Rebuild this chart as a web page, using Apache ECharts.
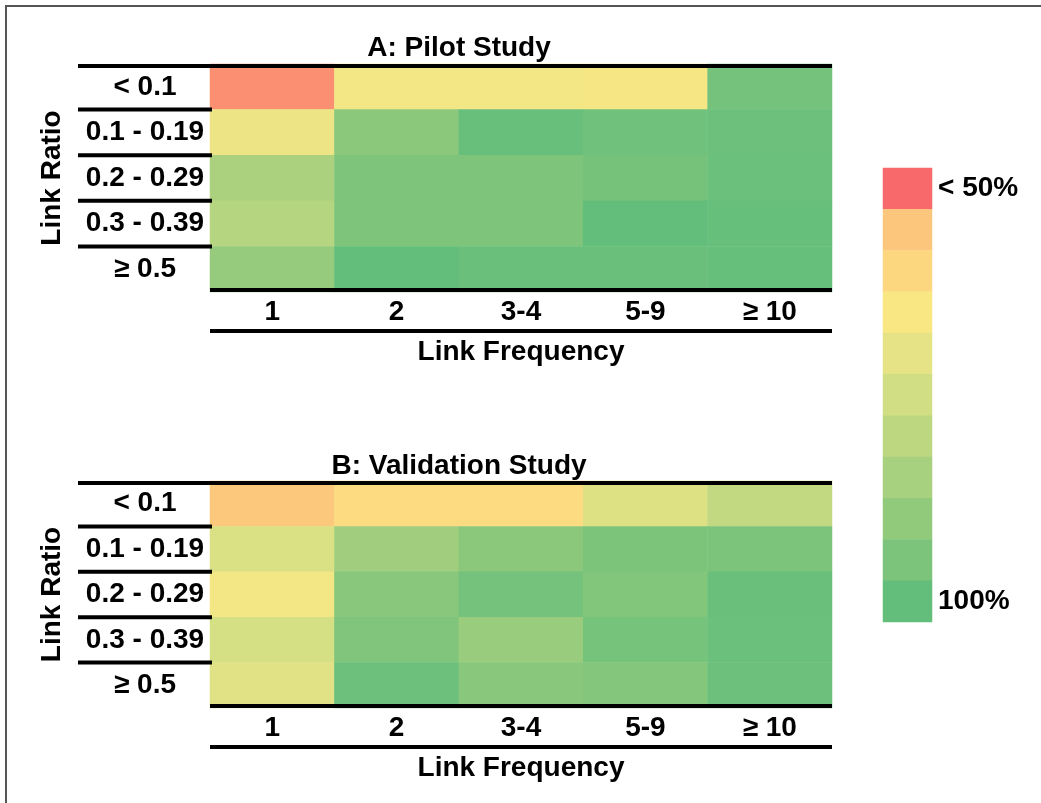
<!DOCTYPE html>
<html>
<head>
<meta charset="utf-8">
<script src="https://cdn.jsdelivr.net/npm/echarts@6/dist/echarts.min.js"></script>
<style>
html,body{margin:0;padding:0;background:#fff;}
#main{width:1041px;height:803px;}
</style>
</head>
<body>
<div id="main"></div>
<script>
// ---- data ----
const xLabels = ['1', '2', '3-4', '5-9', '≥ 10'];
const yLabels = ['< 0.1', '0.1 - 0.19', '0.2 - 0.29', '0.3 - 0.39', '≥ 0.5'];
// rows follow yLabels, columns follow xLabels (percent scale, <50 shown as red)
const pilotValues = [
  [52, 66.5, 66.5, 65.5, 96.6],
  [68, 91.6, 99, 97.6, 98.2],
  [84, 94.5, 94.5, 96.3, 98.4],
  [81.6, 94.5, 94.5, 100, 99.4],
  [89, 99.8, 98.6, 98.6, 99.4]
];
const validationValues = [
  [55.6, 61.2, 61.2, 72, 78.7],
  [72.7, 86.7, 91.6, 94.8, 95],
  [66.5, 92, 96.6, 93.6, 98.6],
  [74, 94, 88, 96.2, 98.4],
  [71.2, 98, 92, 93.2, 98.2]
];
const legendValues = [50, 55, 60, 65, 70, 75, 80, 85, 90, 95, 100];
const legendLabels = ['< 50%', '', '', '', '', '', '', '', '', '', '100%'];
const legendColors = ['#F8696B', '#FCC77C', '#FDD780', '#F9E784', '#E5E385', '#D1DE83',
                      '#BDD781', '#A7D07F', '#92CA7C', '#7CC47B', '#63BE7B'];

// ---- layout ----
const FONT = 'Liberation Sans, Arial, sans-serif';
const txt = {fontFamily: FONT, fontWeight: 'bold', fontSize: 28, color: '#000'};
const G = [
  {left: 210, top: 64, width: 622, height: 228},
  {left: 210, top: 481, width: 622, height: 227}
];
const LEG = {left: 883, top: 168, width: 49, height: 454};

function toCells(m) {
  const out = [];
  m.forEach((row, yi) => row.forEach((v, xi) => out.push([xi, yi, v])));
  return out;
}

const chart = echarts.init(document.getElementById('main'));

const graphics = [];
function hline(x1, x2, y, w) {
  graphics.push({type: 'line', shape: {x1: x1, y1: y, x2: x2, y2: y},
    style: {stroke: '#000', lineWidth: w}, silent: true, z: 100});
}
// frame
graphics.push({type: 'line', shape: {x1: 5, y1: 6, x2: 1041, y2: 6}, style: {stroke: '#555', lineWidth: 2}, silent: true});
graphics.push({type: 'line', shape: {x1: 6, y1: 5, x2: 6, y2: 803}, style: {stroke: '#555', lineWidth: 2}, silent: true});

const titles = ['A: Pilot Study', 'B: Validation Study'];
const titleY = [48, 466];
G.forEach((g, i) => {
  const right = g.left + g.width;
  const rowH = g.height / yLabels.length;
  hline(78, right, g.top + 2, 4);
  for (let k = 1; k < yLabels.length; k++) hline(78, g.left + 2, g.top + rowH * k, 4);
  hline(g.left, right, g.top + g.height - 2, 4);
  hline(g.left, right, g.top + g.height + 39, 4);
  graphics.push({type: 'text', x: 459, y: titleY[i], silent: true,
    style: {text: titles[i], font: 'bold 28px ' + FONT, fill: '#000', textAlign: 'center', textVerticalAlign: 'middle'}});
});

const xAxes = G.map((g, i) => ({
  gridIndex: i, type: 'category', data: xLabels,
  axisLine: {show: false}, axisTick: {show: false}, splitLine: {show: false},
  axisLabel: Object.assign({}, txt, {margin: 20, verticalAlign: 'middle', interval: 0}),
  name: 'Link Frequency', nameLocation: 'middle', nameGap: 60,
  nameTextStyle: Object.assign({}, txt, {verticalAlign: 'middle'})
}));
xAxes.push({gridIndex: 2, type: 'category', data: [''], show: false});

const yAxes = G.map((g, i) => ({
  gridIndex: i, type: 'category', data: yLabels, inverse: true,
  axisLine: {show: false}, axisTick: {show: false}, splitLine: {show: false},
  axisLabel: Object.assign({}, txt, {margin: 65, align: 'center', interval: 0, padding: [4, 0, 0, 0]}),
  name: 'Link Ratio', nameLocation: 'middle', nameGap: 158, nameRotate: 90,
  nameTextStyle: Object.assign({}, txt, {verticalAlign: 'middle'})
}));
yAxes.push({
  gridIndex: 2, type: 'category', data: legendLabels, inverse: true, position: 'right',
  axisLine: {show: false}, axisTick: {show: false}, splitLine: {show: false},
  axisLabel: Object.assign({}, txt, {margin: 6, align: 'left', interval: 0, padding: [8, 0, 0, 0]})
});

chart.setOption({
  animation: false,
  backgroundColor: '#fff',
  grid: [
    Object.assign({containLabel: false}, G[0]),
    Object.assign({containLabel: false}, G[1]),
    Object.assign({containLabel: false}, LEG)
  ],
  xAxis: xAxes,
  yAxis: yAxes,
  visualMap: {
    type: 'continuous', show: false, min: 50, max: 100, seriesIndex: [0, 1, 2],
    inRange: {color: legendColors}
  },
  graphic: graphics,
  series: [
    {type: 'heatmap', xAxisIndex: 0, yAxisIndex: 0, data: toCells(pilotValues),
     itemStyle: {borderWidth: 0}, emphasis: {disabled: true}},
    {type: 'heatmap', xAxisIndex: 1, yAxisIndex: 1, data: toCells(validationValues),
     itemStyle: {borderWidth: 0}, emphasis: {disabled: true}},
    {type: 'heatmap', xAxisIndex: 2, yAxisIndex: 2,
     data: legendValues.map((v, i) => [0, i, v]),
     itemStyle: {borderWidth: 0}, emphasis: {disabled: true}}
  ]
});
</script>
</body>
</html>
